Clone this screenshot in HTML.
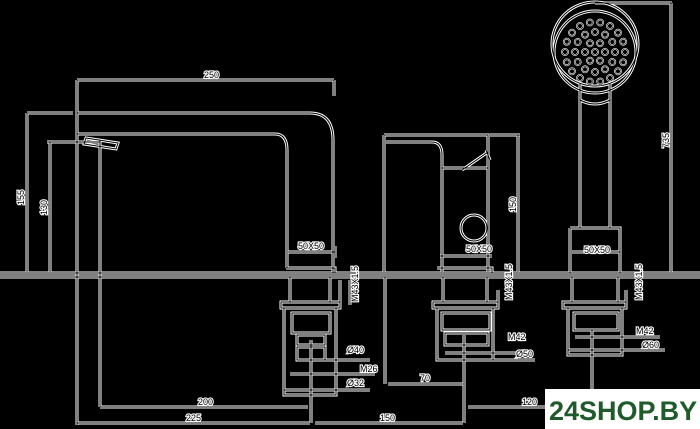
<!DOCTYPE html>
<html><head><meta charset="utf-8"><style>
html,body{margin:0;padding:0;background:#000;}
svg{display:block;}
text{font-family:"Liberation Sans",sans-serif;font-size:9px;fill:#000;stroke:#fff;stroke-width:2.2px;paint-order:stroke;}
</style></head><body>
<svg width="700" height="429" viewBox="0 0 700 429" xmlns="http://www.w3.org/2000/svg">
<defs>
<g id="d" fill="none">
<!-- ground -->
<path d="M0 273H700M0 277H700"/>
<!-- left faucet -->
<path d="M77 80V425M100 140V407M77 80H334M334 80V96"/>
<path d="M77 113H310Q333 113 333 140V273M77 134H275Q287 134 287 150V268"/>
<path d="M86 138L118 143L116 149L84 144Z"/>
<path d="M27 113H73M27 113V272M47 142H100M50 142V272"/>
<path d="M286 268H335V273M288 252H335M335 246V258"/>
<!-- under ground fixture 1 -->
<path d="M290 277H330V302M290 277V302M281 302H340V308H281Z"/>
<path d="M284 308H336V395H284ZM292 313H330V333H292ZM297 335H325V345H297ZM297 347H325V360H297Z"/>
<path d="M311 340V423M297 360H370M290 374H375M284 390H370M340 280V305M350 305V280"/>
<!-- dims bottom -->
<path d="M100 407H308M77 423H310M315 423H463M468 407H550M385 277V384M388 384H463"/>
<!-- middle faucet -->
<path d="M384 135H488V175M384 135V272M386 142H432Q442 142 442 155V272M442 168H488V272"/>
<path d="M462 170L488 152M486 150L490 160"/>
<circle cx="474" cy="228" r="13"/>
<path d="M440 256H492M437 268H492V273M518 135V272M490 135H520"/>
<!-- fixture 2 -->
<path d="M443 277H487V302M443 277V302M433 302H498V308H433Z"/>
<path d="M437 308H493V360H437ZM442 313H490V330H442ZM445 333H488V345H445Z"/>
<path d="M464 335V423M445 353H530M440 360H535M498 290V305"/>
<!-- shower -->
<ellipse cx="595" cy="44" rx="43" ry="42"/>
<circle cx="595" cy="52" r="41"/>
<path d="M580 84V100Q595 108 610 100V84M580 100V228M610 100V228M570 228H620V273M570 228V273M572 252H620M595 3H672M671 3V272"/>
<!-- fixture 3 -->
<path d="M572 277H618V302M572 277V302M563 302H626V308H563Z"/>
<path d="M568 308H622V355H568ZM574 313H618V330H574Z"/>
<path d="M592 330V400M575 337H660M568 350H665M626 290V305"/>
</g>
<g id="dots" fill="none">
<circle cx="595" cy="52" r="3"/>
<circle cx="605" cy="52" r="3"/><circle cx="600" cy="60.7" r="3"/><circle cx="590" cy="60.7" r="3"/><circle cx="585" cy="52" r="3"/><circle cx="590" cy="43.3" r="3"/><circle cx="600" cy="43.3" r="3"/>
<circle cx="615" cy="52" r="3"/><circle cx="612.3" cy="62" r="3"/><circle cx="605" cy="69.3" r="3"/><circle cx="595" cy="72" r="3"/><circle cx="585" cy="69.3" r="3"/><circle cx="577.7" cy="62" r="3"/><circle cx="575" cy="52" r="3"/><circle cx="577.7" cy="42" r="3"/><circle cx="585" cy="34.7" r="3"/><circle cx="595" cy="32" r="3"/><circle cx="605" cy="34.7" r="3"/><circle cx="612.3" cy="42" r="3"/>
<circle cx="625" cy="52" r="3"/><circle cx="623.2" cy="62.3" r="3"/><circle cx="618" cy="71.3" r="3"/><circle cx="610" cy="78" r="3"/><circle cx="600.2" cy="81.5" r="3"/><circle cx="589.8" cy="81.5" r="3"/><circle cx="580" cy="78" r="3"/><circle cx="572" cy="71.3" r="3"/><circle cx="566.8" cy="62.3" r="3"/><circle cx="565" cy="52" r="3"/><circle cx="566.8" cy="41.7" r="3"/><circle cx="572" cy="32.7" r="3"/><circle cx="580" cy="26" r="3"/><circle cx="589.8" cy="22.5" r="3"/><circle cx="600.2" cy="22.5" r="3"/><circle cx="610" cy="26" r="3"/><circle cx="618" cy="32.7" r="3"/><circle cx="623.2" cy="41.7" r="3"/>
</g>
</defs>
<use href="#d" stroke="#fff" stroke-width="3"/>
<use href="#d" stroke="#000" stroke-width="1"/>
<use href="#dots" stroke="#fff" stroke-width="1.8"/>
<use href="#dots" stroke="#000" stroke-width="0.6"/>
<text x="204" y="78">250</text>
<text x="298" y="249">50X50</text>
<text x="466" y="252">50X50</text>
<text x="584" y="253">50X50</text>
<text transform="translate(24 205) rotate(-90)">155</text>
<text transform="translate(47 215) rotate(-90)">130</text>
<text transform="translate(516 212) rotate(-90)">150</text>
<text transform="translate(669 148) rotate(-90)">735</text>
<text transform="translate(358 302) rotate(-90)">M43X1.5</text>
<text transform="translate(512 300) rotate(-90)">M43X1.5</text>
<text transform="translate(642 300) rotate(-90)">M43X1.5</text>
<text x="347" y="353">Ø40</text>
<text x="360" y="372">M26</text>
<text x="347" y="386">Ø32</text>
<text x="508" y="340">M42</text>
<text x="516" y="357">Ø50</text>
<text x="636" y="334">M42</text>
<text x="642" y="348">Ø60</text>
<text x="198" y="405">200</text>
<text x="186" y="421">225</text>
<text x="380" y="421">150</text>
<text x="522" y="405">120</text>
<text x="420" y="381">70</text>
<rect x="545" y="389" width="155" height="40" fill="#fff"/>
<text x="549" y="420" style="font-size:27px;font-weight:bold;fill:#1f5a2a;stroke:none;">24SHOP.BY</text>
</svg>
</body></html>
